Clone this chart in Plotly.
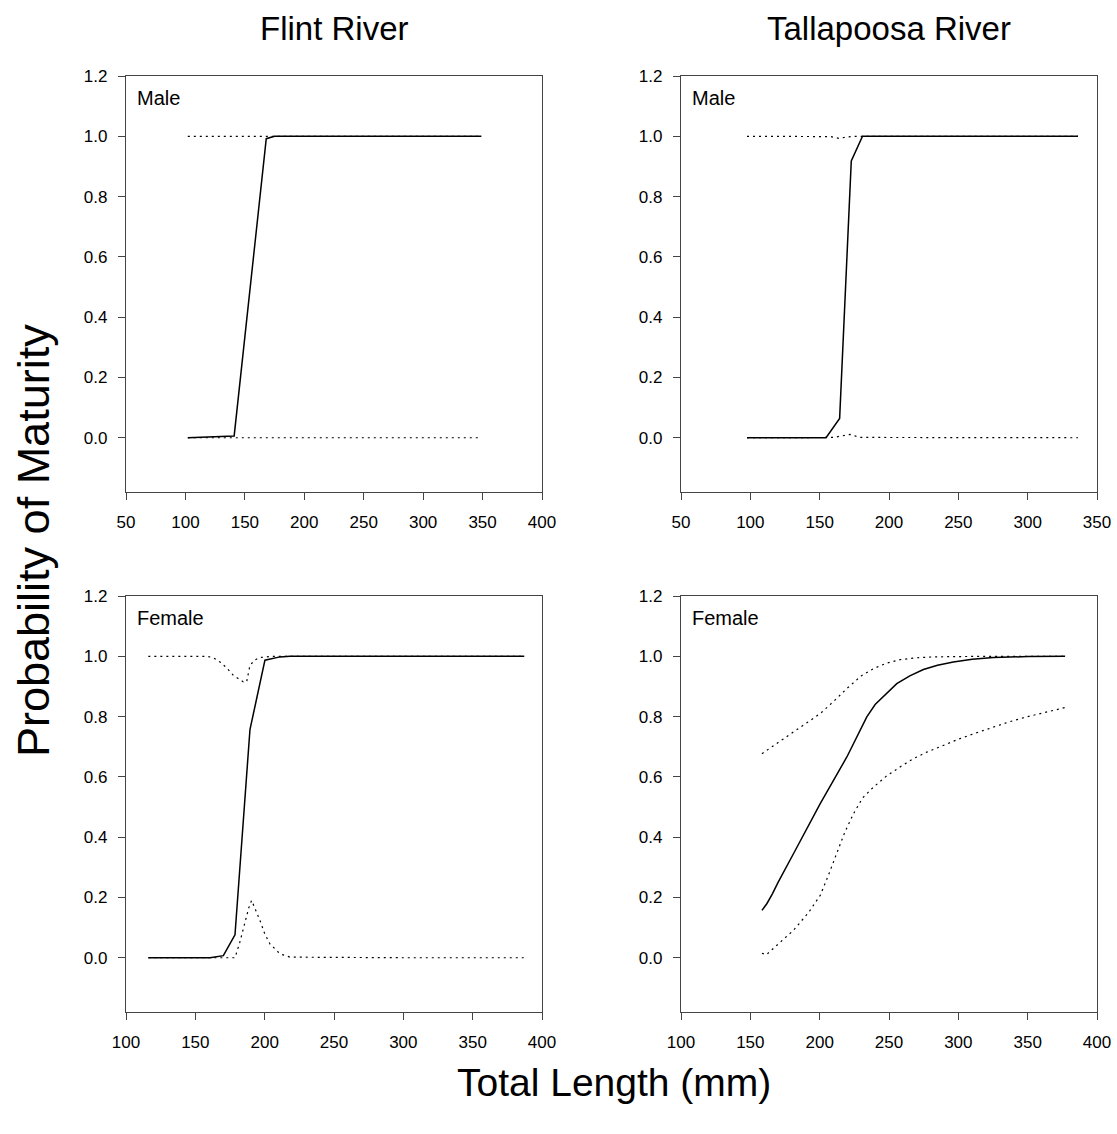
import plotly.graph_objects as go

# ---------------- data ----------------
# Flint River, Male
flint_m_x = [102, 141, 168, 175, 200, 250, 300, 349]
flint_m_fit = [0.0, 0.006, 0.992, 1.0, 1.0, 1.0, 1.0, 1.0]
flint_m_up_x = [102, 150, 200, 250, 300, 349]
flint_m_up = [1.0, 1.0, 1.0, 1.0, 1.0, 1.0]
flint_m_lo_x = [102, 150, 200, 250, 300, 349]
flint_m_lo = [0.0, 0.0, 0.0, 0.0, 0.0, 0.0]

# Tallapoosa River, Male
tal_m_x = [97.6, 154.6, 164.4, 172.8, 180.9, 250, 336.3]
tal_m_fit = [0.0, 0.0, 0.064, 0.918, 1.0, 1.0, 1.0]
tal_m_up_x = [97.6, 150, 158, 164, 170, 176, 250, 336.3]
tal_m_up = [1.0, 1.0, 0.999, 0.993, 0.998, 1.0, 1.0, 1.0]
tal_m_lo_x = [97.6, 150, 160, 166, 172, 179, 250, 336.3]
tal_m_lo = [0.0, 0.0, 0.001, 0.006, 0.011, 0.001, 0.0, 0.0]

# Flint River, Female
flint_f_x = [116.1, 160.6, 170.2, 178.6, 189.4, 200.2, 211.0, 218.3, 300, 387.2]
flint_f_fit = [0.0, 0.0, 0.007, 0.076, 0.757, 0.987, 0.998, 1.0, 1.0, 1.0]
flint_f_up_x = [116.1, 158.6, 163, 167.8, 172.5, 177.4, 184.6, 187.0, 189.4, 193.0, 196.6, 206.0, 300, 387.2]
flint_f_up = [1.0, 1.0, 0.995, 0.981, 0.962, 0.937, 0.915, 0.915, 0.970, 0.988, 0.996, 1.0, 1.0, 1.0]
flint_f_lo_x = [116.1, 178.6, 182.0, 185.8, 188.5, 190.6, 193.5, 196.6, 200.0, 203.8, 211.0, 218.3, 300, 387.2]
flint_f_lo = [0.0, 0.0, 0.05, 0.113, 0.165, 0.190, 0.160, 0.124, 0.080, 0.046, 0.013, 0.002, 0.0, 0.0]

# Tallapoosa River, Female
tal_f_x = [158.4, 162, 166, 170, 181.1, 200.4, 219.6, 234.0, 240, 244, 250, 255.6, 265, 274.8,
           285, 296.4, 310, 325.3, 350, 377]
tal_f_fit = [0.157, 0.18, 0.213, 0.25, 0.345, 0.511, 0.666, 0.799, 0.84, 0.857, 0.885, 0.909, 0.935,
             0.956, 0.970, 0.981, 0.990, 0.996, 0.999, 1.0]
tal_f_up_x = [158.4, 181.1, 200.4, 210, 219.6, 230, 238.8, 248, 258.0, 270, 282.0, 300, 320, 377]
tal_f_up = [0.677, 0.749, 0.810, 0.850, 0.893, 0.935, 0.959, 0.977, 0.989, 0.995, 0.998, 0.999, 1.0, 1.0]
tal_f_lo_x = [158.4, 161.6, 170, 181.1, 192, 200.4, 206, 212.4, 218, 224.4, 231, 238.8, 248, 258.0,
              267, 277.2, 289, 301.2, 313, 325.3, 337, 349.3, 363, 377]
tal_f_lo = [0.015, 0.010, 0.045, 0.091, 0.150, 0.207, 0.270, 0.345, 0.415, 0.478, 0.530, 0.566,
            0.602, 0.633, 0.659, 0.682, 0.705, 0.727, 0.746, 0.765, 0.783, 0.799, 0.815, 0.830]

y_ticks = [0.0, 0.2, 0.4, 0.6, 0.8, 1.0, 1.2]
x_ticks_top = [50, 100, 150, 200, 250, 300, 350, 400]
x_ticks_bot = [100, 150, 200, 250, 300, 350, 400]
panel_titles = ["Flint River", "Tallapoosa River"]
sex_labels = ["Male", "Female"]

# ---------------- figure ----------------
W, H = 1117, 1134
FONT = "Liberation Sans, Arial, sans-serif"

fig = go.Figure()

xdom = [[126 / W, 542 / W], [681 / W, 1097 / W]]
ydom = [[1 - 492 / H, 1 - 76 / H], [1 - 1012 / H, 1 - 596 / H]]

panels = [
    (1, 0, 0, flint_m_x, flint_m_fit, flint_m_up_x, flint_m_up, flint_m_lo_x, flint_m_lo, [50, 400], x_ticks_top),
    (2, 0, 1, tal_m_x, tal_m_fit, tal_m_up_x, tal_m_up, tal_m_lo_x, tal_m_lo, [50, 350], x_ticks_top[:-1]),
    (3, 1, 0, flint_f_x, flint_f_fit, flint_f_up_x, flint_f_up, flint_f_lo_x, flint_f_lo, [100, 400], x_ticks_bot),
    (4, 1, 1, tal_f_x, tal_f_fit, tal_f_up_x, tal_f_up, tal_f_lo_x, tal_f_lo, [100, 400], x_ticks_bot),
]

layout = {}
for idx, row, col, fx, fy, ux, uy, lx, ly, xr, xt in panels:
    xa = "x" if idx == 1 else f"x{idx}"
    ya = "y" if idx == 1 else f"y{idx}"
    for (px, py, dash) in [(ux, uy, "2px,4px"), (lx, ly, "2px,4px"), (fx, fy, "solid")]:
        fig.add_trace(go.Scatter(
            x=px, y=py, mode="lines", xaxis=xa, yaxis=ya, showlegend=False,
            line=dict(color="black", width=1.5 if dash == "solid" else 1.2, dash=dash),
            hoverinfo="skip",
        ))
    axis_common = dict(
        showline=True, linecolor="#444444", linewidth=1.3, mirror=True,
        ticks="outside", ticklen=7, tickwidth=1.3, tickcolor="#444444",
        showgrid=False, zeroline=False, automargin=False, ticklabelstandoff=7,
        tickfont=dict(family=FONT, size=17, color="black"),
    )
    layout["xaxis" if idx == 1 else f"xaxis{idx}"] = dict(
        domain=xdom[col], anchor=ya, range=xr, tickvals=xt, **axis_common)
    layout["yaxis" if idx == 1 else f"yaxis{idx}"] = dict(
        domain=ydom[row], anchor=xa, range=[-0.18, 1.2], tickvals=y_ticks,
        tickformat=".1f", **axis_common)

fig.update_layout(**layout)

annotations = []
for col, t in enumerate(panel_titles):
    annotations.append(dict(
        text=t, x=(xdom[col][0] + xdom[col][1]) / 2, y=1 - 29 / H, xref="paper", yref="paper",
        showarrow=False, font=dict(family=FONT, size=33, color="black"),
        xanchor="center", yanchor="middle"))
for row, t in enumerate(sex_labels):
    for col in range(2):
        annotations.append(dict(
            text=t, x=xdom[col][0] + 9 / W, y=ydom[row][1] - 9 / H, xref="paper", yref="paper",
            showarrow=False, font=dict(family=FONT, size=20, color="black"),
            xanchor="left", yanchor="top"))
annotations.append(dict(
    text="Total Length (mm)", x=614 / W, y=1 - 1082 / H, xref="paper", yref="paper",
    showarrow=False, font=dict(family=FONT, size=39, color="black"),
    xanchor="center", yanchor="middle"))
annotations.append(dict(
    text="Probability of Maturity", x=33 / W, y=1 - 541 / H, xref="paper", yref="paper",
    showarrow=False, textangle=-90, font=dict(family=FONT, size=45, color="black"),
    xanchor="center", yanchor="middle"))

fig.update_layout(
    width=W, height=H, margin=dict(l=0, r=0, t=0, b=0, autoexpand=False),
    paper_bgcolor="white", plot_bgcolor="white",
    annotations=annotations, showlegend=False,
)

fig.write_html("out.html")
